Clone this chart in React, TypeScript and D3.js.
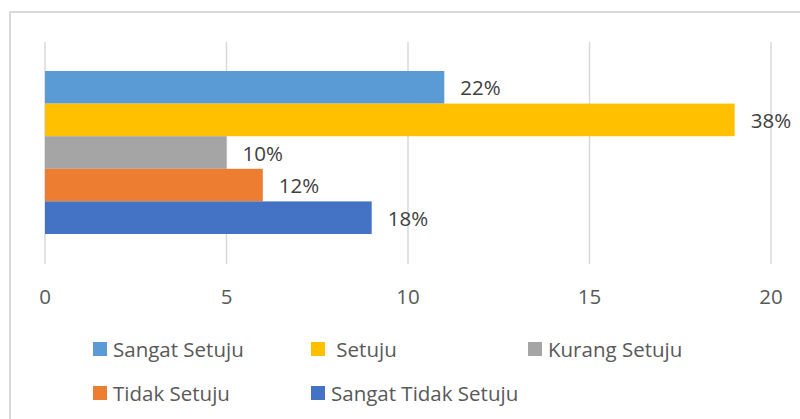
import React from "react";
import * as d3 from "d3";

const categories = ["Sangat Setuju", "Setuju", "Kurang Setuju", "Tidak Setuju", "Sangat Tidak Setuju"];
const values = [11, 19, 5, 6, 9];
const percentLabels = ["22%", "38%", "10%", "12%", "18%"];
const colors = ["#5B9BD5", "#FFC000", "#A5A5A5", "#ED7D31", "#4472C4"];
const xTicks = [0, 5, 10, 15, 20];
const legendLabels = ["Sangat Setuju", " Setuju", "Kurang Setuju", "Tidak Setuju", "Sangat Tidak Setuju"];

const W = 800;
const H = 419;
const FONT = "'Open Sans', 'Liberation Sans', sans-serif";

export default function App() {
  const x = d3.scaleLinear().domain([0, 20]).range([45, 771]);
  const y = d3.scaleBand().domain(categories).range([71, 234]).paddingInner(0);
  const legendPos = [
    { sx: 93, tx: 113, cy: 349 },
    { sx: 311, tx: 331, cy: 349 },
    { sx: 528, tx: 548, cy: 349 },
    { sx: 93, tx: 113, cy: 393 },
    { sx: 311, tx: 331, cy: 393 },
  ];
  return (
    <svg width={W} height={H} style={{ position: "absolute", left: 0, top: 0, display: "block" }} fontFamily={FONT}>
      <rect x={0} y={0} width={W} height={H} fill="#ffffff" />
      <rect x={10} y={12} width={W} height={H} fill="none" stroke="#d9d9d9" strokeWidth={2} />
      {xTicks.map((t) => (
        <line key={"g" + t} x1={x(t)} x2={x(t)} y1={42} y2={264} stroke="#d9d9d9" strokeWidth={1.5} />
      ))}
      {categories.map((c, i) => (
        <rect key={c} x={x(0)} y={y(c)} width={x(values[i]) - x(0)} height={y.bandwidth()} fill={colors[i]} />
      ))}
      {categories.map((c, i) => (
        <text
          key={"l" + c}
          x={x(values[i]) + 16}
          y={(y(c) as number) + y.bandwidth() / 2}
          dominantBaseline="central"
          fontSize={20.5}
          fill="#404040"
        >
          {percentLabels[i]}
        </text>
      ))}
      {xTicks.map((t) => (
        <text key={"t" + t} x={x(t)} y={296} textAnchor="middle" dominantBaseline="central" fontSize={20.5} fill="#595959">
          {t}
        </text>
      ))}
      {legendLabels.map((l, i) => (
        <g key={"lg" + i}>
          <rect x={legendPos[i].sx} y={legendPos[i].cy - 7} width={14} height={14} fill={colors[i]} />
          <text x={legendPos[i].tx} y={legendPos[i].cy} dominantBaseline="central" fontSize={20.5} fill="#595959" style={{ whiteSpace: "pre" }}>
            {l}
          </text>
        </g>
      ))}
    </svg>
  );
}
